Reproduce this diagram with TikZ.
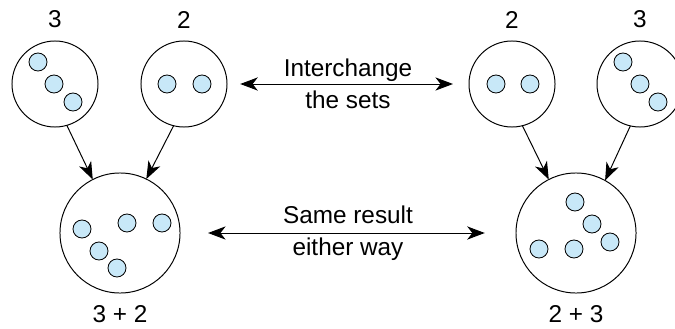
\documentclass[tikz,border=0pt]{standalone}
\usepackage{fontspec}
\setmainfont{Liberation Sans}
\usetikzlibrary{arrows.meta,positioning}
\definecolor{dotblue}{RGB}{200,232,248}
\begin{document}
\begin{tikzpicture}[x=0.025cm, y=-0.025cm, line width=0.7pt,
    font=\fontsize{17.3}{22.8}\selectfont,
    setnode/.style={circle, draw, minimum size=2.15cm, inner sep=0pt, outer sep=0pt},
    sumnode/.style={circle, draw, minimum size=3cm, inner sep=0pt, outer sep=0pt},
    numlbl/.style={inner sep=0pt},
    arr/.style={-{Stealth[length=4.4mm, width=3.3mm, inset=1.3mm]}},
    dblarr/.style={{Stealth[length=4.4mm, width=3.3mm, inset=1.3mm]}-{Stealth[length=4.4mm, width=3.3mm, inset=1.3mm]}},
    midtxt/.style={align=center, inner sep=0pt}]
    \useasboundingbox (0,0) rectangle (675,328);
    \clip (0,0) rectangle (675,328);

    % the four sets and the two unions
    \node[setnode] (lthree) at (55,84) {};
    \node[setnode] (ltwo) at (184,84) {};
    \node[setnode] (rtwo) at (512,84) {};
    \node[setnode] (rthree) at (640,84) {};
    \node[sumnode] (lsum) at (120,233) {};
    \node[sumnode] (rsum) at (576,233) {};

    \foreach \x/\y in {38/62,54/84,73/102, 167/84,202/84, 496/84,530/84, 623/62,640/84,658/102,
                       82/229,127/223,162/223,99/251,117/268, 575/202,592/224,610/242,539/249,574/249}
      \draw[fill=dotblue, line width=0.6pt] (\x,\y) circle (0.225cm);

    \node[numlbl, above=0.31cm of lthree] (tthree) {3};
    \node[numlbl, above=0.31cm of ltwo] (ttwo) {2};
    \node[numlbl, above=0.31cm of rtwo] (utwo) {2};
    \node[numlbl, above=0.31cm of rthree] (uthree) {3};
    \node[numlbl, below=0.3cm of lsum] (tsum) {3 + 2};
    \node[numlbl, below=0.3cm of rsum] (usum) {2 + 3};

    \draw[arr] (lthree.-74) -- (lsum.117);
    \draw[arr] (ltwo.-104) -- (lsum.64);
    \draw[arr] (rtwo.-76) -- (rsum.117);
    \draw[arr] (rthree.-103) -- (rsum.61);

    \draw[dblarr, shorten <=0.33cm, shorten >=0.4cm] (ltwo.east) -- node[midtxt] (swap) {Interchange\\the sets} (rtwo.west);
    \draw[dblarr, shorten <=0.7cm, shorten >=0.78cm] (lsum.east) -- node[midtxt] (same) {Same result\\either way} (rsum.west);
\end{tikzpicture}
\end{document}
